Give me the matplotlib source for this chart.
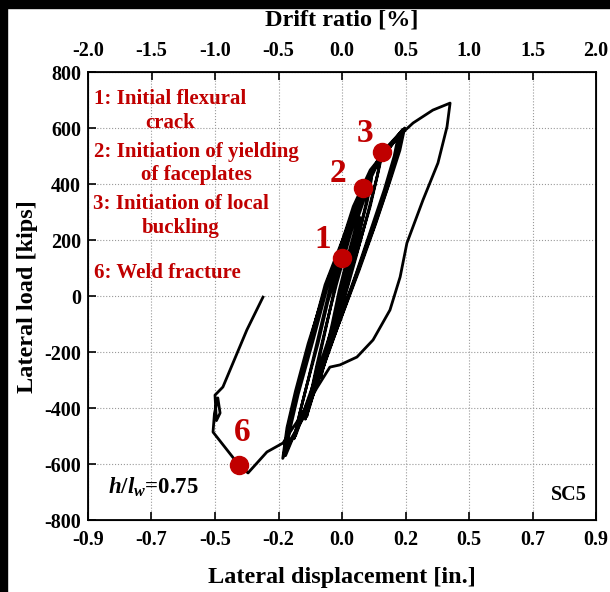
import numpy as np
import matplotlib
matplotlib.use('Agg')
import matplotlib.pyplot as plt
from matplotlib.patches import Rectangle

plt.rcParams['font.family'] = ['Liberation Serif', 'DejaVu Serif']
plt.rcParams['font.weight'] = 'bold'
plt.rcParams['axes.unicode_minus'] = False
plt.rcParams['mathtext.fontset'] = 'custom'
plt.rcParams['mathtext.rm'] = 'Liberation Serif:bold'
plt.rcParams['mathtext.it'] = 'Liberation Serif:italic:bold'

# DATOS

# desplazamiento lateral [in.] y carga lateral [kips]
desplazamiento = [
    0.0, 0.015, 0.03, 0.02, 0.005, -0.015, -0.035, -0.025, -0.005,
    0.01, 0.04, 0.065, 0.05, 0.03, 0.0, -0.04, -0.075, -0.06, -0.035, -0.01,
    0.02, 0.06, 0.1, 0.085, 0.05, 0.02, -0.03, -0.08, -0.125, -0.11, -0.08, -0.045, -0.015,
    0.025, 0.07, 0.105, 0.09, 0.06, 0.03, -0.02, -0.07, -0.13, -0.115, -0.09, -0.055, -0.02,
    0.03, 0.08, 0.14, 0.125, 0.09, 0.05, 0.0, -0.06, -0.11, -0.165, -0.15, -0.12, -0.08, -0.04, 0.0,
    0.04, 0.09, 0.145, 0.13, 0.1, 0.06, 0.01, -0.05, -0.1, -0.17, -0.155, -0.125, -0.085, -0.05, -0.01,
    0.05, 0.11, 0.2, 0.185, 0.15, 0.1, 0.05, -0.01, -0.07, -0.13, -0.2, -0.185, -0.155, -0.1, -0.05, 0.0,
    0.075, 0.142, 0.222, 0.205, 0.17, 0.12, 0.06, 0.0, -0.06, -0.13, -0.21, -0.195, -0.165, -0.12, -0.067, -0.02,
    0.04, 0.1, 0.215, 0.2, 0.165, 0.115, 0.05, -0.015, -0.075, -0.135, -0.2, -0.185, -0.15, -0.105, -0.06, -0.01,
    0.04, 0.1, 0.215, 0.2, 0.16, 0.11, 0.045, -0.02, -0.08, -0.14, -0.205, -0.19, -0.15, -0.1, -0.05, 0.0,
    0.06, 0.13, 0.2, 0.252, 0.322, 0.376, 0.383, 0.372, 0.34, 0.287, 0.23, 0.206, 0.17, 0.11,
    0.053, -0.007, -0.043, -0.09, -0.14, -0.18, -0.209, -0.266, -0.333, -0.365, -0.457,
    -0.452, -0.44, -0.432, -0.445, -0.45, -0.422, -0.386, -0.337, -0.28,
]
carga = [
    0, 70, 140, 80, 0, -80, -150, -90, 0,
    60, 180, 280, 200, 100, -30, -160, -290, -210, -100, 20,
    140, 290, 410, 330, 180, 40, -120, -280, -430, -350, -220, -60, 80,
    230, 360, 420, 340, 220, 90, -90, -250, -440, -370, -250, -100, 40,
    220, 380, 510, 430, 290, 140, -40, -210, -350, -500, -420, -300, -130, 40, 150,
    270, 400, 520, 450, 320, 180, 20, -160, -310, -510, -440, -320, -170, -20, 110,
    300, 450, 575, 500, 380, 230, 80, -90, -250, -400, -570, -480, -350, -150, 40, 150,
    386, 514, 600, 520, 410, 260, 90, -70, -230, -410, -580, -470, -340, -170, 0, 130,
    320, 450, 595, 525, 400, 250, 70, -110, -280, -430, -545, -455, -310, -130, 40, 170,
    300, 440, 590, 530, 400, 250, 60, -120, -290, -440, -560, -460, -300, -110, 60, 180,
    330, 480, 570, 618, 664, 686, 689, 604, 475, 343, 189, 68, -50, -157,
    -218, -246, -254, -330, -420, -480, -525, -557, -632, -604, -486,
    -420, -364, -418, -445, -354, -325, -239, -121, -4,
]

# eventos marcados
evento_x = [0.0, 0.075, 0.142, -0.365]
evento_y = [136, 386, 514, -604]
evento_num = ['1', '2', '3', '6']
num_x = [-0.067, -0.014, 0.082, -0.354]
num_y = [200, 439, 582, -486]

leyenda_txt = [
    '1: Initial flexural\ncrack',
    '2: Initiation of yielding\nof faceplates',
    '3: Initiation of local\nbuckling',
    '6: Weld fracture',
]
leyenda_x = [-0.61, -0.517, -0.571, -0.617]
leyenda_y = [662, 473, 287, 82]

# ejes
ticks_x = np.linspace(-0.9, 0.9, 9)
etiquetas_x = ['-0.9', '-0.7', '-0.5', '-0.2', '0.0', '0.2', '0.5', '0.7', '0.9']
ticks_y = np.arange(-800, 801, 200)
ticks_deriva = np.arange(-2.0, 2.01, 0.5)

ROJO = '#c00000'

# FIGURA

fig = plt.figure(figsize=(6.10, 5.92), dpi=100)
fig.patch.set_facecolor('white')
W, H = 610, 592
fig.patches.append(Rectangle((0, 1 - 8 / H), 1, 8 / H, transform=fig.transFigure,
                             color='black', zorder=0))
fig.patches.append(Rectangle((0, 0), 7 / W, 1, transform=fig.transFigure,
                             color='black', zorder=0))

ax = fig.add_axes([88 / W, 72 / H, 508 / W, 448 / H])
ax.plot(desplazamiento, carga, color='black', lw=2.0, zorder=3)
ax.plot(evento_x, evento_y, 'o', color=ROJO, markersize=13, zorder=4)

for n, x, y in zip(evento_num, num_x, num_y):
    ax.text(x, y, n, color=ROJO, fontsize=24, ha='center', va='center', zorder=5)

for t, x, y in zip(leyenda_txt, leyenda_x, leyenda_y):
    ax.text(x, y, t, color=ROJO, fontsize=15, ha='center', va='center',
            multialignment='center', linespacing=1.25, zorder=5)

ax.text(-0.829, -682, r'$h/l_w$=0.75', fontsize=16.5, ha='left', va='center')
ax.text(0.868, -711, 'SC5', fontsize=14.5, ha='right', va='center')

ax.set_xlim(-0.9, 0.9)
ax.set_ylim(-800, 800)
ax.set_xticks(ticks_x, etiquetas_x)
ax.set_yticks(ticks_y)
ax.tick_params(direction='in', length=6, width=1.2, labelsize=14.5, pad=5)
ax.tick_params(axis='x', pad=7)
ax.grid(True, linestyle=':', color='#999999', linewidth=0.8)
for sp in ax.spines.values():
    sp.set_linewidth(1.3)

ax2 = ax.twiny()
ax2.set_xlim(-2.0, 2.0)
ax2.set_xticks(ticks_deriva, [f'{v:.1f}' for v in ticks_deriva])
ax2.tick_params(direction='in', length=6, width=1.2, labelsize=14.5, pad=8)

fig.text(342 / W, 1 - 20 / H, 'Drift ratio [%]', fontsize=17.5, ha='center', va='center')
fig.text(342 / W, 1 - 577 / H, 'Lateral displacement [in.]', fontsize=17.5,
         ha='center', va='center')
fig.text(28 / W, 1 - 297 / H, 'Lateral load [kips]', fontsize=17.5, ha='center',
         va='center', rotation=90)

fig.savefig('out.png', dpi=100)
